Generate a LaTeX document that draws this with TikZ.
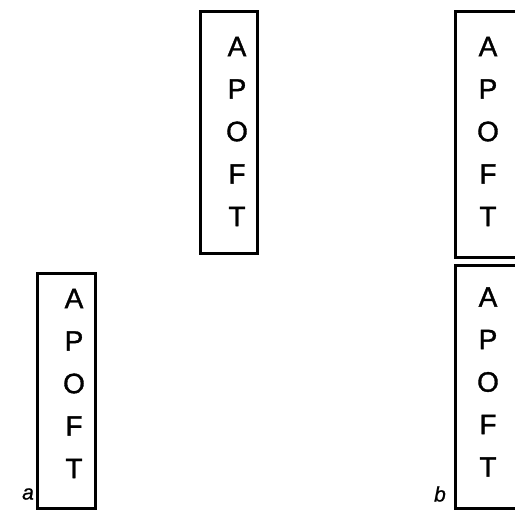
\documentclass[tikz,border=0pt]{standalone}
\usepackage{fontspec}
\setmainfont{Liberation Sans}
\newfontfamily\lettfont[FakeBold=1.2]{Liberation Sans}
\newfontfamily\tagfont[FakeBold=0.8]{Liberation Sans Italic}
\begin{document}
\begin{tikzpicture}[x=1pt,y=-1pt,
  box/.style={draw=black, line width=3pt, rectangle, inner sep=0pt},
  letters/.style={align=center, inner sep=0pt, font=\lettfont\fontsize{28}{42.5}\selectfont},
  tag/.style={inner sep=0pt, font=\tagfont\fontsize{21}{21}\selectfont}]
\clip (0,0) rectangle (515,511);
\fill[white] (0,0) rectangle (515,511);
% top middle box
\node[box, minimum width=57pt, minimum height=241pt] (b1) at (228.5,132.5) {};
\node[letters] (t1) at (237,131.5) {A\\P\\O\\F\\T};
% bottom left box
\node[box, minimum width=58pt, minimum height=235pt] (b2) at (66,390.5) {};
\node[letters] (t2) at (74,383.5) {A\\P\\O\\F\\T};
% right top box
\node[box, minimum width=70pt, minimum height=245pt] (b3) at (490,134.5) {};
\node[letters] (t3) at (488,131.5) {A\\P\\O\\F\\T};
% right bottom box
\node[box, minimum width=70pt, minimum height=243pt] (b4) at (490,386.5) {};
\node[letters] (t4) at (488,382) {A\\P\\O\\F\\T};
% labels
\node[tag] (la) at (28,494) {a};
\node[tag] (lb) at (440,494) {b};
\end{tikzpicture}
\end{document}
